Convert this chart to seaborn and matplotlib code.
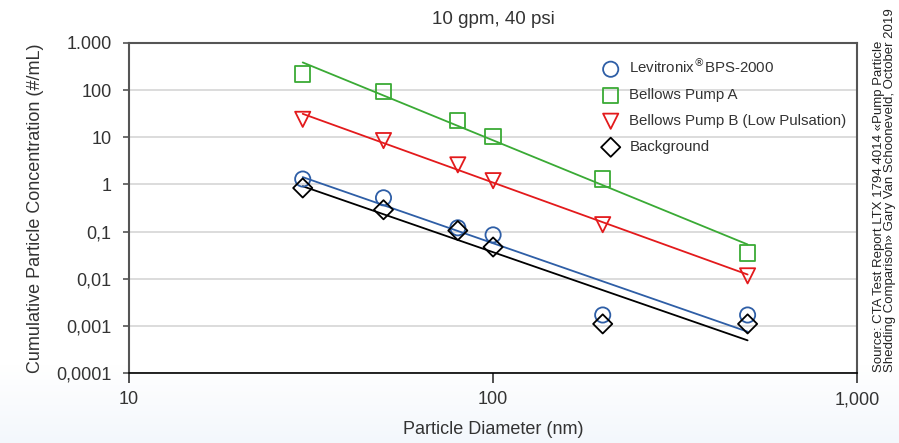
import numpy as np
import pandas as pd
import seaborn as sns
import matplotlib.pyplot as plt
from matplotlib.ticker import FixedLocator, FixedFormatter, NullLocator

sns.set_theme(style='ticks')
plt.rcParams['font.family'] = ['Liberation Sans', 'DejaVu Sans']

# particle diameters (nm)
diameter = [30, 50, 80, 100, 200, 500]

# cumulative concentration (#/mL)
levitronix = [1.3, 0.52, 0.12, 0.085, 0.0017, 0.0017]
pump_a = [220, 95, 23, 10.5, 1.3, 0.035]
pump_b = [24, 8.5, 2.6, 1.2, 0.14, 0.0115]
background = [0.84, 0.29, 0.105, 0.047, 0.0011, 0.0011]

names = ['Levitronix$^{®}$BPS-2000', 'Bellows Pump A',
         'Bellows Pump B (Low Pulsation)', 'Background']
series = [levitronix, pump_a, pump_b, background]
colors = ['#2e5ea6', '#3aaa35', '#e31a1c', '#000000']
markers = ['o', 's', 'v', 'D']
sizes = [120, 120, 120, 95]

ytick_vals = [0.0001, 0.001, 0.01, 0.1, 1, 10, 100, 1000]
ytick_labels = ['0,0001', '0,001', '0,01', '0,1', '1', '10', '100', '1.000']
xtick_vals = [10, 100, 1000]
xtick_labels = ['10', '100', '1,000']

txt = '#333333'
fig = plt.figure(figsize=(8.99, 4.43), dpi=100)

# light blue fade at the bottom of the figure
bg = fig.add_axes([0, 0, 1, 1], zorder=-5)
grad = np.ones((443, 1, 3))
fade = np.clip((np.arange(443) - 365) / 78.0, 0, 1)
base = np.array([0.953, 0.969, 0.988])
grad[:, 0, :] = 1 - fade[:, None] * (1 - base)
bg.imshow(grad, aspect='auto', extent=[0, 1, 0, 1])
bg.axis('off')

ax = fig.add_axes([0.1435, 0.158, 0.81, 0.745])
ax.set_facecolor('white')

for name, vals, c, m, s in zip(names, series, colors, markers, sizes):
    df = pd.DataFrame({'d': diameter, 'c': vals})
    # power-law trend line (fit in log-log space)
    k, b = np.polyfit(np.log10(df['d']), np.log10(df['c']), 1)
    fit = pd.DataFrame({'d': [diameter[0], diameter[-1]]})
    fit['c'] = 10 ** (b + k * np.log10(fit['d']))
    sns.lineplot(data=fit, x='d', y='c', color=c, lw=1.3, ax=ax, zorder=2)
    sns.scatterplot(data=df, x='d', y='c', marker=m, s=s, facecolor='none',
                    edgecolor=c, linewidth=1.3, label=name, ax=ax, zorder=3)

ax.set_xscale('log')
ax.set_yscale('log')
ax.set_xlim(10, 1000)
ax.set_ylim(0.0001, 1000)

ax.yaxis.set_major_locator(FixedLocator(ytick_vals))
ax.yaxis.set_major_formatter(FixedFormatter(ytick_labels))
ax.yaxis.set_minor_locator(NullLocator())
ax.xaxis.set_major_locator(FixedLocator(xtick_vals))
ax.xaxis.set_major_formatter(FixedFormatter(xtick_labels))
ax.xaxis.set_minor_locator(NullLocator())

ax.grid(axis='y', color='#d9d9d9', lw=1.3)
ax.grid(axis='x', visible=False)
ax.set_axisbelow(True)

for side in ['left', 'top', 'right']:
    ax.spines[side].set_visible(True)
    ax.spines[side].set_color('#555555')
    ax.spines[side].set_linewidth(1.5)
ax.spines['bottom'].set_color('black')
ax.spines['bottom'].set_linewidth(1.2)

ax.tick_params(axis='y', which='major', direction='out', length=4.5, width=1.2,
               color='#555555', labelsize=13, labelcolor=txt, pad=8, left=True)
ax.tick_params(axis='x', which='major', direction='out', length=7, width=1.2,
               color='#333333', labelsize=13, labelcolor=txt, pad=6, bottom=True)

ax.set_xlabel('Particle Diameter (nm)', fontsize=13, color=txt, labelpad=9)
ax.set_ylabel('Cumulative Particle Concentration (#/mL)', fontsize=13,
              color=txt, labelpad=9)
ax.set_title('10 gpm, 40 psi', fontsize=13.5, color=txt, pad=14)

leg = ax.legend(loc='upper right', bbox_to_anchor=(1.0, 0.99), frameon=False,
                fontsize=10.8, handletextpad=0.25, labelspacing=0.8, borderaxespad=0.3)
for t in leg.get_texts():
    t.set_color(txt)

fig.text(0.9835, 0.16, 'Source: CTA Test Report LTX 1794 4014 «Pump Particle\n'
         'Shedding Comparison» Gary Van Schooneveld, October 2019',
         rotation=90, ha='center', va='bottom', fontsize=9.5, color='#222222',
         family=['Liberation Sans', 'DejaVu Sans'], linespacing=0.92,
         multialignment='left')

fig.savefig('out.png', dpi=100)
